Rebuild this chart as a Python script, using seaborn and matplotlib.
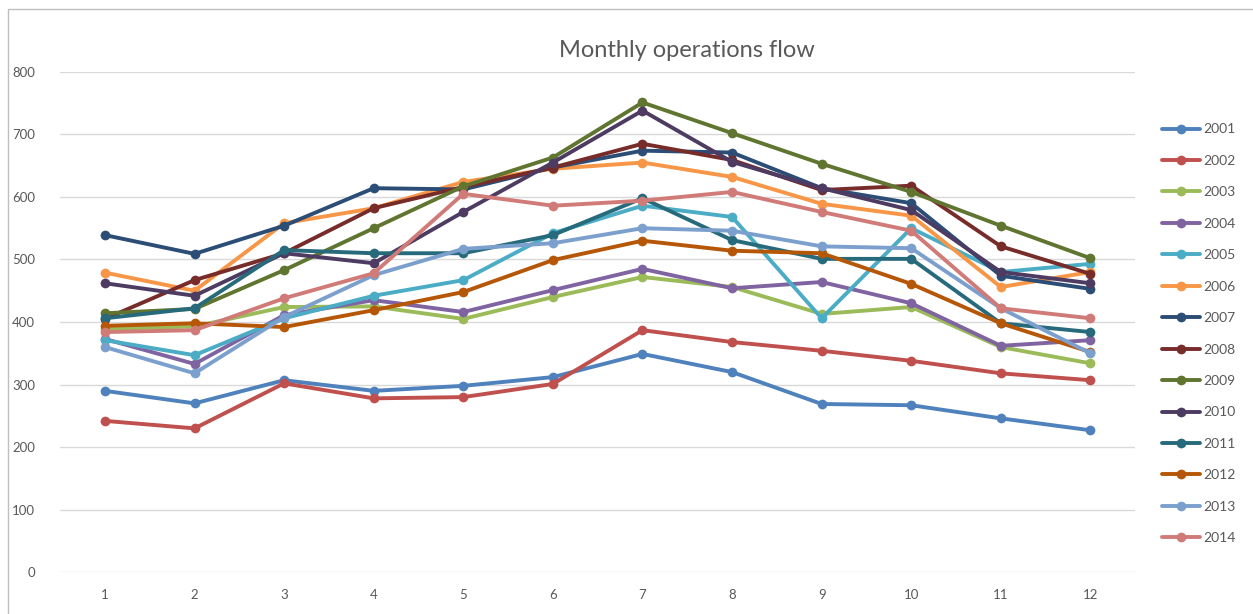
import numpy as np
import pandas as pd
import matplotlib
matplotlib.use('Agg')
import matplotlib.pyplot as plt
import seaborn as sns

months = list(range(1, 13))
years = ['2001', '2002', '2003', '2004', '2005', '2006', '2007',
         '2008', '2009', '2010', '2011', '2012', '2013', '2014']

y2001 = [290, 270, 307, 290, 298, 312, 349, 320, 269, 267, 246, 227]
y2002 = [242, 230, 302, 278, 280, 301, 387, 368, 354, 338, 318, 307]
y2003 = [389, 393, 424, 425, 405, 440, 472, 456, 413, 424, 360, 334]
y2004 = [373, 333, 411, 435, 416, 451, 485, 454, 464, 430, 362, 371]
y2005 = [371, 347, 406, 442, 467, 542, 586, 568, 406, 550, 480, 493]
y2006 = [479, 450, 558, 582, 624, 645, 655, 632, 589, 570, 456, 480]
y2007 = [539, 509, 554, 614, 612, 647, 674, 671, 614, 590, 474, 453]
y2008 = [405, 467, 510, 582, 616, 647, 685, 659, 611, 618, 521, 477]
y2009 = [414, 421, 483, 550, 617, 663, 751, 702, 653, 608, 554, 502]
y2010 = [462, 442, 510, 494, 576, 655, 738, 656, 614, 579, 480, 462]
y2011 = [406, 422, 515, 510, 510, 539, 598, 531, 501, 501, 398, 384]
y2012 = [394, 398, 392, 419, 448, 499, 530, 514, 510, 461, 398, 352]
y2013 = [360, 318, 408, 475, 517, 526, 550, 546, 521, 518, 422, 350]
y2014 = [384, 387, 438, 478, 605, 586, 594, 608, 576, 546, 422, 406]

series = [y2001, y2002, y2003, y2004, y2005, y2006, y2007,
          y2008, y2009, y2010, y2011, y2012, y2013, y2014]

colors = ['#4F81BD', '#C0504D', '#9BBB59', '#8064A2', '#4BACC6', '#F79646',
          '#2C4D75', '#772C2A', '#5F7530', '#4D3B62', '#276A7C', '#B65708',
          '#7BA0CD', '#D07B78']

rows = []
for yr, vals in zip(years, series):
    for m, v in zip(months, vals):
        rows.append({'month': m, 'year': yr, 'value': v})
df = pd.DataFrame(rows)

sns.set_style('white')
plt.rcParams['font.family'] = ['Lato', 'DejaVu Sans']

fig = plt.figure(figsize=(12.53, 6.14), dpi=100)
ax = fig.add_axes([0.048, 0.068, 0.858, 0.815])

sns.lineplot(data=df, x='month', y='value', hue='year', hue_order=years,
             palette=dict(zip(years, colors)), marker='o', markersize=7,
             markeredgewidth=0, linewidth=2.8, ax=ax)

ax.set_xlim(0.5, 12.5)
ax.set_ylim(0, 800)
ax.set_xticks(months)
ax.set_yticks(range(0, 801, 100))
ax.grid(axis='y', color='#D9D9D9', linewidth=1)
ax.set_axisbelow(True)
for s in ax.spines.values():
    s.set_visible(False)
ax.tick_params(axis='both', length=0, labelsize=9.5, colors='#595959')
ax.tick_params(axis='x', pad=12)
ax.tick_params(axis='y', pad=18)
ax.set_xlabel('')
ax.set_ylabel('')

fig.text(0.5485, 0.917, 'Monthly operations flow', ha='center', va='center',
         fontsize=17, color='#595959')

handles, labels = ax.get_legend_handles_labels()
leg = ax.legend(handles, labels, loc='upper left', bbox_to_anchor=(0.923, 0.808),
                bbox_transform=fig.transFigure, frameon=False, fontsize=10,
                labelspacing=1.4, handlelength=2.7, handletextpad=0.3,
                borderaxespad=0)
for t in leg.get_texts():
    t.set_color('#595959')

# chart area border
fig.add_artist(plt.Rectangle((0.0064, -0.01), 1.0, 0.995, transform=fig.transFigure,
                             fill=False, edgecolor='#BFBFBF', linewidth=1))

fig.savefig('out.png', dpi=100)
